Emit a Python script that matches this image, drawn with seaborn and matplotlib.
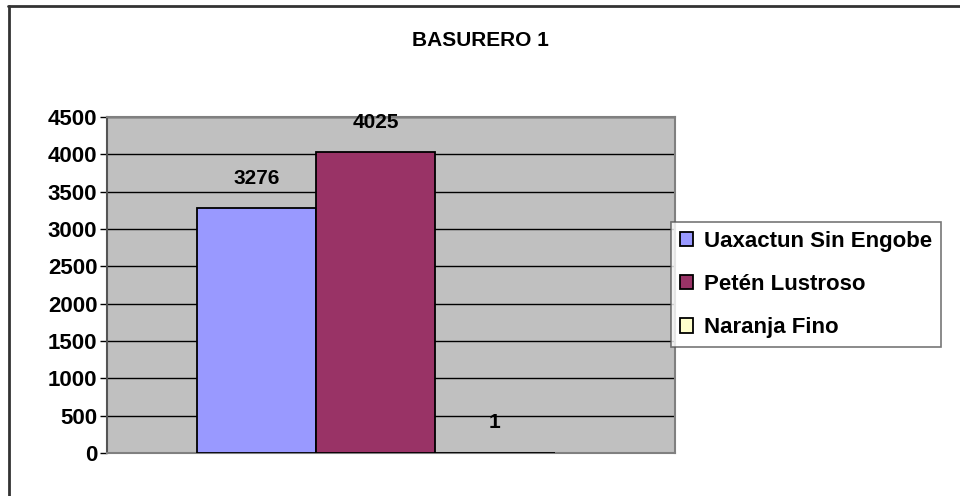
import matplotlib
matplotlib.use("Agg")
import matplotlib.pyplot as plt
import seaborn as sns
import pandas as pd
from matplotlib.lines import Line2D

# data
series = ["Uaxactun Sin Engobe", "Petén Lustroso", "Naranja Fino"]
values = [3276, 4025, 1]
colors = ["#9999FF", "#993366", "#FFFFCC"]
yticks = [0, 500, 1000, 1500, 2000, 2500, 3000, 3500, 4000, 4500]

df = pd.DataFrame({"grupo": ["Basurero 1"] * 3, "serie": series, "valor": values})

sns.set_style("white")
plt.rcParams["font.family"] = ["Liberation Sans", "DejaVu Sans"]
plt.rcParams["font.weight"] = "bold"
plt.rcParams["text.color"] = "black"
plt.rcParams["ytick.color"] = "black"

fig = plt.figure(figsize=(9.6, 4.96), dpi=100)
ax = fig.add_axes([107 / 960, 1 - 453 / 496, 568 / 960, 336 / 496])

sns.barplot(data=df, x="grupo", y="valor", hue="serie", palette=colors,
            saturation=1, width=0.63, edgecolor="black", linewidth=1.3,
            ax=ax, zorder=3)

ax.set_facecolor("#C0C0C0")
ax.set_xlim(-0.473, 0.527)
ax.set_ylim(0, 4500)
ax.set_yticks(yticks)
ax.set_yticklabels([str(t) for t in yticks], fontsize=16, fontweight="bold",
                   color="black")
ax.set_xticks([])
ax.set_xlabel("")
ax.set_ylabel("")
ax.yaxis.grid(True, color="black", linewidth=1)
ax.set_axisbelow(True)
ax.tick_params(axis="y", length=5, width=1, color="black", left=True, pad=2)
for s in ax.spines.values():
    s.set_color("#808080")
    s.set_linewidth(1.5)
ax.spines["left"].set_color("#555555")

# value labels
for cont in ax.containers:
    ax.bar_label(cont, fmt="%d", padding=15, fontsize=15, fontweight="bold",
                 color="black")

# title
fig.text(0.5, 1 - 40 / 496, "BASURERO 1", ha="center", va="center",
         fontsize=15, fontweight="bold", color="black")

# legend
leg = ax.legend(loc="upper left", bbox_to_anchor=(671 / 960, 1 - 222 / 496),
                bbox_transform=fig.transFigure, frameon=True, fancybox=False,
                fontsize=16, handlelength=0.6, handleheight=0.6,
                handletextpad=0.5, labelspacing=1.0, borderpad=0.4,
                borderaxespad=0)
leg.get_frame().set_edgecolor("#555555")
leg.get_frame().set_linewidth(1.2)
for t in leg.get_texts():
    t.set_fontweight("bold")
    t.set_color("black")

# outer chart border (top and left visible)
fig.add_artist(Line2D([8 / 960, 1], [1 - 6 / 496, 1 - 6 / 496],
                      transform=fig.transFigure, color="#333333", linewidth=2))
fig.add_artist(Line2D([9 / 960, 9 / 960], [0, 1 - 6 / 496],
                      transform=fig.transFigure, color="#333333", linewidth=2))

fig.savefig("out.png", dpi=100, facecolor="white")
